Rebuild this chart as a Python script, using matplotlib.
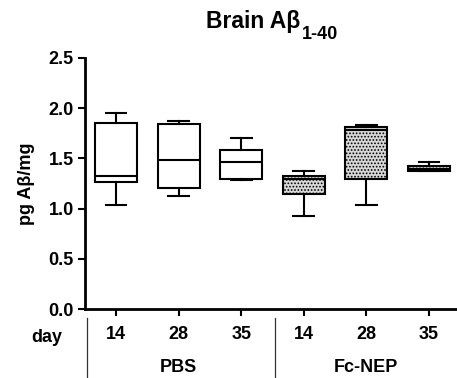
import matplotlib
matplotlib.use("Agg")
import matplotlib.pyplot as plt

plt.rcParams['font.family'] = ['Liberation Sans', 'DejaVu Sans']
plt.rcParams['font.weight'] = 'bold'
plt.rcParams['hatch.color'] = '#555555'
plt.rcParams['hatch.linewidth'] = 0.8

#--------
# values
days = ['14', '28', '35', '14', '28', '35']
groups = ['PBS', 'Fc-NEP']
whislo = [1.04, 1.13, 1.285, 0.93, 1.04, 1.37]
q1 = [1.26, 1.205, 1.295, 1.145, 1.29, 1.37]
med = [1.32, 1.48, 1.46, 1.295, 1.78, 1.395]
q3 = [1.85, 1.84, 1.585, 1.32, 1.815, 1.42]
whishi = [1.95, 1.87, 1.70, 1.375, 1.83, 1.465]

positions = list(range(1, len(days) + 1))

stats = []
for i in range(len(days)):
    stats.append(dict(whislo=whislo[i], q1=q1[i], med=med[i], q3=q3[i],
                      whishi=whishi[i], fliers=[]))

fig = plt.figure(figsize=(4.57, 3.78), dpi=100)
ax = fig.add_axes([85 / 457, 1 - 309 / 378, (456 - 85) / 457, (309 - 58) / 378])

bp = ax.bxp(stats, positions=positions, widths=0.67, showfliers=False,
            patch_artist=True,
            boxprops=dict(linewidth=1.5, edgecolor='black'),
            medianprops=dict(color='black', linewidth=1.5),
            whiskerprops=dict(color='black', linewidth=1.5),
            capprops=dict(color='black', linewidth=1.5),
            capwidths=0.33)
for i, box in enumerate(bp['boxes']):
    if i < 3:
        box.set_facecolor('white')
    else:
        box.set_facecolor('#d8d8d8')
        box.set_hatch('.....')

ax.set_ylim(0, 2.5)
ax.set_xlim(1 - (116 - 85) / 62.6, 6 + (456 - 429) / 62.6)
ax.set_yticks([0.0, 0.5, 1.0, 1.5, 2.0, 2.5])
ax.set_yticklabels(['0.0', '0.5', '1.0', '1.5', '2.0', '2.5'])
ax.set_xticks(positions)
ax.set_xticklabels(days)
ax.tick_params(axis='both', width=1.5, length=5, labelsize=13, pad=3)
ax.tick_params(axis='x', pad=7)
for lab in ax.get_xticklabels() + ax.get_yticklabels():
    lab.set_fontweight('bold')

for s in ['top', 'right']:
    ax.spines[s].set_visible(False)
for s in ['left', 'bottom']:
    ax.spines[s].set_linewidth(2)

ax.set_ylabel('pg Aβ/mg', fontsize=13, fontweight='bold', labelpad=10)

# title with subscript
t = fig.text(0.658, 1 - 28 / 378, 'Brain Aβ', fontsize=16.5, fontweight='bold',
             ha='right', va='baseline')
ax.annotate('1-40', xy=(1, 0), xycoords=t, xytext=(0.5, -4),
            textcoords='offset points', fontsize=13, fontweight='bold',
            ha='left', va='baseline')

# group labels below the axis
tr = ax.get_xaxis_transform()
ax.text(1 - (116 - 47) / 62.6, (309 - 337) / 251, 'day', transform=tr,
        fontsize=13, fontweight='bold', ha='center', va='center', clip_on=False)
ax.text(2, (309 - 367) / 251, groups[0], transform=tr, fontsize=13,
        fontweight='bold', ha='center', va='center', clip_on=False)
ax.text(5, (309 - 367) / 251, groups[1], transform=tr, fontsize=13,
        fontweight='bold', ha='center', va='center', clip_on=False)
for xs in [1 - (116 - 87) / 62.6, 1 + (275 - 116) / 62.6]:
    ax.plot([xs, xs], [(309 - 318) / 251, (309 - 380) / 251], transform=tr,
            color='#333333', linewidth=0.9, clip_on=False)

fig.savefig('out.png', dpi=100)
